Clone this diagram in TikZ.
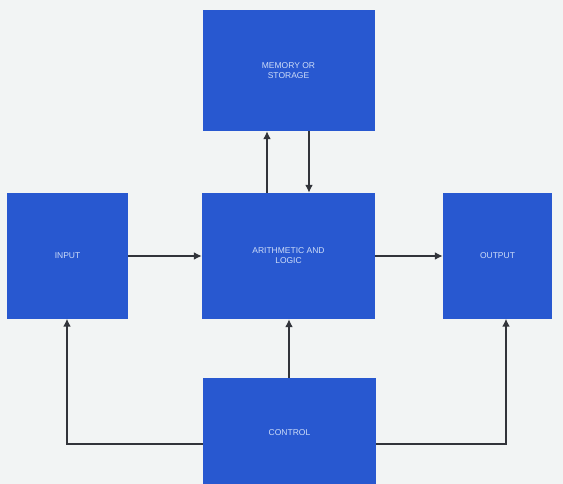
\documentclass[tikz,border=0pt]{standalone}
\usepackage{fontspec}
\setmainfont{Liberation Sans}
\usetikzlibrary{arrows.meta}
\definecolor{boxblue}{RGB}{40,88,208}
\definecolor{bg}{RGB}{242,244,244}
\definecolor{txt}{RGB}{205,220,248}
\definecolor{ln}{RGB}{50,52,58}
\begin{document}
\begin{tikzpicture}[x=1pt,y=-1pt,
  blk/.style={fill=boxblue,draw=none,text=txt,font=\fontsize{8.5}{10}\selectfont,align=center,inner sep=0pt},
  conn/.style={draw=ln,line width=2.8pt,-{Latex[length=8pt,width=8pt]}}]
\fill[bg] (0,0) rectangle (563,484);
\useasboundingbox (0,0) rectangle (563,484);
\node[blk,minimum width=172pt,minimum height=121pt] (mem) at (288.5,70.5) {MEMORY OR\\STORAGE};
\node[blk,minimum width=121pt,minimum height=125pt] (inp) at (67.5,256) {INPUT};
\node[blk,minimum width=173pt,minimum height=126pt] (alu) at (288.5,256) {ARITHMETIC AND\\LOGIC};
\node[blk,minimum width=109pt,minimum height=125pt] (out) at (497.5,256) {OUTPUT};
\node[blk,minimum width=173pt,minimum height=110pt] (ctl) at (289.5,433) {CONTROL};
\draw[conn] (alu.north -| 267,0) -- (mem.south -| 267,0);
\draw[conn] (mem.south -| 309,0) -- (alu.north -| 309,0);
\draw[conn] (inp.east) -- (alu.west);
\draw[conn] (alu.east) -- (out.west);
\draw[conn] (ctl.north -| 289,0) -- (alu.south -| 289,0);
\coordinate (cl) at (67,444);
\coordinate (cr) at (506,444);
\draw[conn] (ctl.west |- cl) -- (cl) -- (inp.south -| cl);
\draw[conn] (ctl.east |- cr) -- (cr) -- (out.south -| cr);
\end{tikzpicture}
\end{document}
